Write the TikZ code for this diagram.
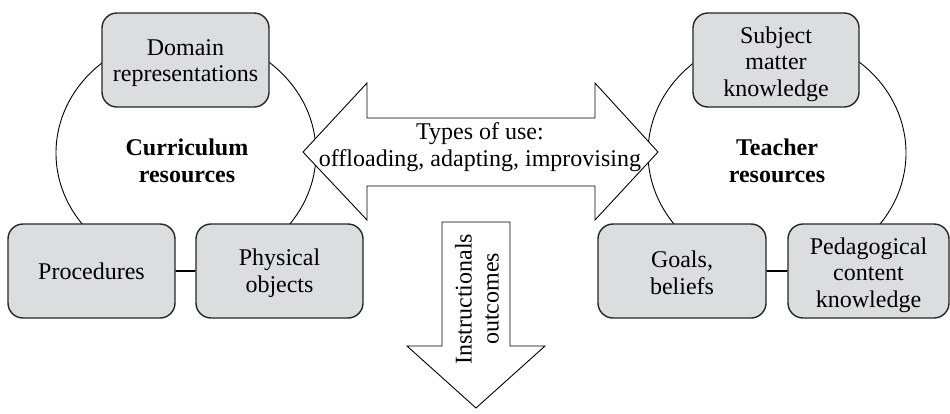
\documentclass[tikz,border=0pt]{standalone}
\usepackage{fontspec}
\setmainfont{Liberation Serif}
\definecolor{boxgray}{RGB}{220,221,222}
\begin{document}
\begin{tikzpicture}[x=1pt,y=-1pt,
  res/.style={draw=black!85,line width=1.4pt,fill=boxgray,rounded corners=15pt,
    minimum height=94pt,inner sep=0pt},
  boxtext/.style={align=center,font=\fontsize{24}{26.5}\selectfont,inner sep=0pt},
  bigarrow/.style={draw,line width=0.9pt,fill=white},
  lbl/.style={align=center,font=\fontsize{24}{27}\selectfont,inner sep=0pt},
  title/.style={align=center,font=\fontsize{24}{27}\selectfont\bfseries,inner sep=0pt}]
\useasboundingbox (0,0) rectangle (950,413);
% circles
\draw[line width=0.9pt] (186,153) ellipse [x radius=130, y radius=118];
\draw[line width=0.9pt] (777,153) ellipse [x radius=129, y radius=118];
\node[title] (cur) at (187,161) {Curriculum\\resources};
\node[title] (tea) at (777,161) {Teacher\\resources};
% boxes
\node[res,minimum width=167pt] (dom) at (185.5,60) {};
\node[boxtext] (domt) at (185.5,63) {Domain\\representations};
\node[res,minimum width=167pt] (proc) at (91.5,271) {};
\node[boxtext] (proct) at (91.5,271) {Procedures};
\node[res,minimum width=167pt] (phys) at (279.5,271) {};
\node[boxtext] (physt) at (279.5,273) {Physical\\objects};
\node[res,minimum width=166pt] (subj) at (776,60) {};
\node[boxtext] (subjt) at (776,64) {Subject\\matter\\knowledge};
\node[res,minimum width=168pt] (goal) at (682,271) {};
\node[boxtext] (goalt) at (682,273) {Goals,\\beliefs};
\node[res,minimum width=161pt] (ped) at (868.5,271) {};
\node[boxtext] (pedt) at (868.5,275) {Pedagogical\\content\\knowledge};
\draw[line width=1.2pt] (proc.east) -- (phys.west);
\draw[line width=1.2pt] (goal.east) -- (ped.west);
% double arrow
\draw[bigarrow] (303,152) -- (367,83) -- (367,118) -- (595,118) -- (595,83) -- (658,152)
  -- (595,220) -- (595,186) -- (367,186) -- (367,220) -- cycle;
\node[lbl] (use) at (480,147) {Types of use:\\offloading, adapting, improvising};
% down arrow
\draw[bigarrow] (442,222) -- (510,222) -- (510,346) -- (545,346) -- (476,408)
  -- (407,346) -- (442,346) -- cycle;
\node[lbl,rotate=90] (out) at (477,299) {Instructionals\\outcomes};
\end{tikzpicture}
\end{document}
